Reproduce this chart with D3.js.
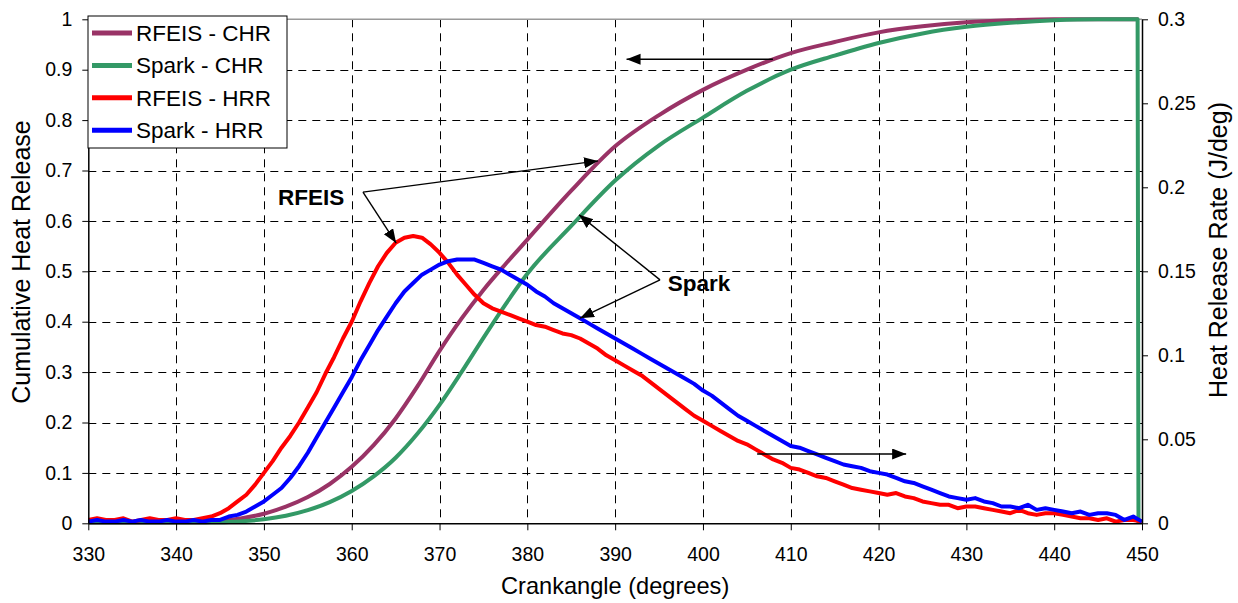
<!DOCTYPE html>
<html>
<head>
<meta charset="utf-8">
<script src="https://cdn.jsdelivr.net/npm/d3@7"></script>
<style>
  body { margin: 0; background: #fff; }
  svg { display: block; font-family: "Liberation Sans", Arial, sans-serif; }
</style>
</head>
<body>
<svg id="chart" width="1238" height="603"></svg>
<script>
// cumulative heat release (left axis)
const chrAngles = [330, 335, 340, 343, 345, 347.5, 350, 352.5, 355, 357.5, 360, 362.5, 365, 367.5, 370, 372.5, 375, 377.5, 380, 385, 390, 395, 400, 405, 410, 415, 420, 425, 430, 435, 440, 445, 449.5, 449.6];
const rfeisChr = [0.002, 0.002, 0.002, 0.002, 0.004, 0.01, 0.019, 0.033, 0.052, 0.078, 0.112, 0.155, 0.208, 0.272, 0.342, 0.406, 0.463, 0.514, 0.563, 0.66, 0.748, 0.81, 0.86, 0.9, 0.933, 0.955, 0.974, 0.986, 0.994, 0.998, 1.0, 1.0, 1.0, 1.0];
const sparkChr = [0.002, 0.002, 0.002, 0.002, 0.002, 0.004, 0.008, 0.015, 0.026, 0.042, 0.064, 0.093, 0.13, 0.178, 0.235, 0.3, 0.368, 0.434, 0.495, 0.59, 0.68, 0.75, 0.805, 0.858, 0.9, 0.928, 0.953, 0.972, 0.985, 0.993, 0.998, 1.0, 1.0, 0];

// heat release rate (right axis), one value per degree 330..450
const hrrAngles = d3.range(330, 451);
const rfeisHrr = [
  0.002, 0.003, 0.002, 0.002, 0.003, 0.001, 0.002, 0.003, 0.002, 0.002, 0.003, 0.002, 0.002, 0.003,
  0.004, 0.006, 0.009, 0.013, 0.017, 0.023, 0.030, 0.037, 0.045, 0.052, 0.060, 0.069, 0.078, 0.089, 0.099, 0.110,
  0.120, 0.132, 0.143, 0.153, 0.161, 0.167, 0.170, 0.171, 0.170, 0.166, 0.161, 0.155, 0.148, 0.142, 0.136, 0.131,
  0.128, 0.126, 0.124, 0.122, 0.120, 0.118, 0.117, 0.115, 0.113, 0.112, 0.110, 0.107, 0.104, 0.100, 0.097,
  0.094, 0.091, 0.088, 0.084, 0.080, 0.076, 0.072, 0.068, 0.064, 0.061, 0.058, 0.055, 0.052, 0.049, 0.047,
  0.044, 0.041, 0.038, 0.036, 0.033, 0.032, 0.030, 0.028, 0.027, 0.025, 0.023, 0.021, 0.020, 0.019, 0.018,
  0.017, 0.018, 0.016, 0.015, 0.013, 0.012, 0.011, 0.011, 0.009, 0.010, 0.010, 0.009, 0.008, 0.007, 0.006,
  0.008, 0.006, 0.005, 0.006, 0.006, 0.005, 0.004, 0.003, 0.003, 0.002, 0.003, 0.001, 0.002, 0.002, 0.001
];
const sparkHrr = [
  0.001, 0.002, 0.001, 0.001, 0.002, 0.001, 0.002, 0.001, 0.001, 0.002, 0.001, 0.001, 0.002, 0.001, 0.002, 0.002,
  0.004, 0.005, 0.007, 0.010, 0.013, 0.017, 0.021, 0.027, 0.034, 0.042, 0.051, 0.060, 0.069, 0.078,
  0.087, 0.097, 0.106, 0.115, 0.123, 0.131, 0.138, 0.143, 0.148, 0.151, 0.154, 0.156, 0.157, 0.157, 0.157, 0.155,
  0.153, 0.151, 0.148, 0.145, 0.142, 0.138, 0.135, 0.131, 0.128, 0.125, 0.122, 0.119, 0.116, 0.113, 0.110,
  0.107, 0.104, 0.101, 0.098, 0.095, 0.092, 0.089, 0.086, 0.083, 0.079, 0.076, 0.072, 0.068, 0.064, 0.061,
  0.058, 0.055, 0.052, 0.049, 0.046, 0.045, 0.043, 0.041, 0.039, 0.037, 0.035, 0.034, 0.033, 0.031, 0.030,
  0.029, 0.027, 0.025, 0.024, 0.022, 0.020, 0.018, 0.016, 0.015, 0.014, 0.015, 0.013, 0.012, 0.010, 0.010,
  0.009, 0.011, 0.008, 0.009, 0.008, 0.007, 0.006, 0.007, 0.005, 0.006, 0.006, 0.005, 0.002, 0.004, 0.001
];

const xTicks = d3.range(330, 451, 10);
const leftTicks = [0, 0.1, 0.2, 0.3, 0.4, 0.5, 0.6, 0.7, 0.8, 0.9, 1];
const rightTicks = [0, 0.05, 0.1, 0.15, 0.2, 0.25, 0.3];

const seriesNames = ["RFEIS - CHR", "Spark - CHR", "RFEIS - HRR", "Spark - HRR"];
const seriesColors = ["#993366", "#339966", "#ff0000", "#0000ff"];

const plot = { left: 88.3, right: 1142, top: 19.3, bottom: 523.3 };

const x = d3.scaleLinear([330, 450], [plot.left, plot.right]);
const yL = d3.scaleLinear([0, 1], [plot.bottom, plot.top]);
const yR = d3.scaleLinear([0, 0.3], [plot.bottom, plot.top]);

const svg = d3.select("#chart");

svg.append("defs").append("marker")
    .attr("id", "head")
    .attr("markerUnits", "userSpaceOnUse")
    .attr("markerWidth", 16).attr("markerHeight", 12)
    .attr("refX", 14).attr("refY", 5.5)
    .attr("orient", "auto")
  .append("path")
    .attr("d", "M0,0L14,5.5L0,11Z")
    .attr("fill", "#000");

// grid
const grid = svg.append("g").attr("stroke", "#000").attr("stroke-width", 1).attr("stroke-dasharray", "8,6");
grid.selectAll("line.v")
  .data(xTicks.slice(1, -1))
  .join("line")
    .attr("x1", d => Math.round(x(d)) + 0.5).attr("x2", d => Math.round(x(d)) + 0.5)
    .attr("y1", plot.top).attr("y2", plot.bottom);
grid.selectAll("line.h")
  .data(leftTicks.slice(1, -1))
  .join("line")
    .attr("x1", plot.left).attr("x2", plot.right)
    .attr("y1", d => Math.round(yL(d)) + 0.5).attr("y2", d => Math.round(yL(d)) + 0.5);

// plot-area top border
svg.append("line")
    .attr("x1", plot.left).attr("x2", plot.right)
    .attr("y1", plot.top).attr("y2", plot.top)
    .attr("stroke", "#999").attr("stroke-width", 1.5);

// data lines
const chrLine = vals => d3.line()
    .x((d, i) => x(chrAngles[i]))
    .y(d => yL(d))
    .curve(d3.curveMonotoneX)(vals);
const hrrLine = vals => d3.line()
    .x((d, i) => x(hrrAngles[i]))
    .y(d => yR(d))(vals);

const lines = svg.append("g").attr("fill", "none").attr("stroke-width", 4).attr("stroke-linejoin", "round");
lines.append("path").attr("d", chrLine(rfeisChr)).attr("stroke", seriesColors[0]);
lines.append("path").attr("d", chrLine(sparkChr)).attr("stroke", seriesColors[1]);
lines.append("path").attr("d", hrrLine(rfeisHrr)).attr("stroke", seriesColors[2]);
lines.append("path").attr("d", hrrLine(sparkHrr)).attr("stroke", seriesColors[3]);

// axes
const tickFont = g => g.selectAll("text").attr("font-size", 19.5).attr("fill", "#000").attr("font-family", "Liberation Sans, Arial, sans-serif");

svg.append("g")
    .attr("transform", `translate(0,${plot.bottom})`)
    .call(d3.axisBottom(x).tickValues(xTicks).tickSize(7).tickPadding(17).tickSizeOuter(0))
    .call(g => g.select(".domain").attr("stroke-width", 1.5))
    .call(tickFont);

svg.append("g")
    .attr("transform", `translate(${plot.left},0)`)
    .call(d3.axisLeft(yL).tickValues(leftTicks).tickFormat(d3.format("~g")).tickSize(6).tickPadding(10).tickSizeOuter(0))
    .call(g => g.select(".domain").attr("stroke-width", 1.5))
    .call(tickFont);

svg.append("g")
    .attr("transform", `translate(${plot.right},0)`)
    .call(d3.axisRight(yR).tickValues(rightTicks).tickFormat(d3.format("~g")).tickSize(6).tickPadding(10).tickSizeOuter(0))
    .call(g => g.select(".domain").attr("stroke-width", 1.5))
    .call(tickFont);

// axis titles
svg.append("text")
    .attr("x", (plot.left + plot.right) / 2).attr("y", 594)
    .attr("text-anchor", "middle").attr("font-size", 23.6)
    .text("Crankangle (degrees)");
svg.append("text")
    .attr("transform", "translate(21.7,262) rotate(-90)")
    .attr("text-anchor", "middle").attr("dy", "0.35em").attr("font-size", 25)
    .text("Cumulative Heat Release");
svg.append("text")
    .attr("transform", "translate(1218,250) rotate(-90)")
    .attr("text-anchor", "middle").attr("dy", "0.35em").attr("font-size", 25)
    .text("Heat Release Rate (J/deg)");

// annotations, in data units (deg, left-axis value)
const arrows = [
  [[361.28, 0.657], [388.05, 0.719]],
  [[361.28, 0.657], [365.06, 0.556]],
  [[395.11, 0.483], [385.89, 0.612]],
  [[395.11, 0.483], [386.0, 0.407]],
  [[407.97, 0.9206], [391.3, 0.9206]],
  [[406.17, 0.1375], [423.14, 0.1375]]
];
svg.append("g")
  .selectAll("line")
  .data(arrows)
  .join("line")
    .attr("x1", d => x(d[0][0])).attr("y1", d => yL(d[0][1]))
    .attr("x2", d => x(d[1][0])).attr("y2", d => yL(d[1][1]))
    .attr("stroke", "#000").attr("stroke-width", 1.4)
    .attr("marker-end", "url(#head)");

const labels = [["RFEIS", 351.6, 0.632], ["Spark", 396.0, 0.460]];
svg.append("g")
  .selectAll("text")
  .data(labels)
  .join("text")
    .attr("x", d => x(d[1])).attr("y", d => yL(d[2]))
    .attr("font-size", 22.5).attr("font-weight", "bold")
    .text(d => d[0]);

// legend
const legend = svg.append("g");
legend.append("rect")
    .attr("x", 88).attr("y", 16).attr("width", 199).attr("height", 132)
    .attr("fill", "#fff").attr("stroke", "#000").attr("stroke-width", 1);
const item = legend.selectAll("g")
  .data(seriesNames)
  .join("g")
    .attr("transform", (d, i) => `translate(0,${33 + i * 32.4})`);
item.append("line")
    .attr("x1", 92).attr("x2", 132)
    .attr("stroke", (d, i) => seriesColors[i]).attr("stroke-width", 5);
item.append("text")
    .attr("x", 136).attr("dy", "0.35em").attr("font-size", 22.5)
    .text(d => d);
</script>
</body>
</html>
